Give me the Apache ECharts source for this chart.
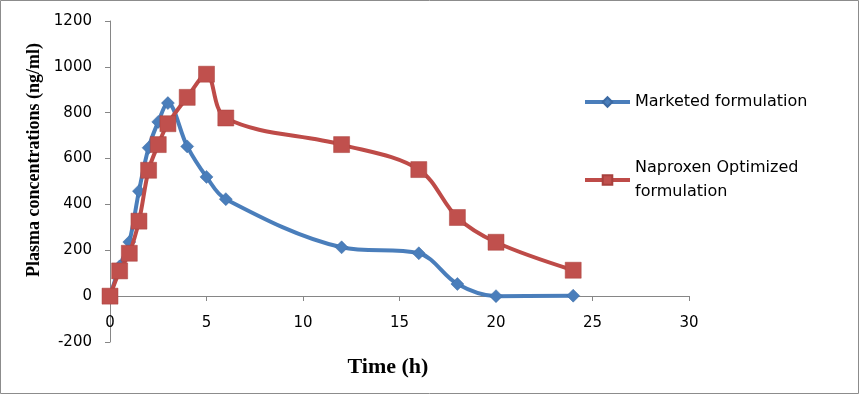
<!DOCTYPE html>
<html>
<head>
<meta charset="utf-8">
<script src="https://cdn.jsdelivr.net/npm/echarts@6/dist/echarts.min.js"></script>
<style>
html,body{margin:0;padding:0;background:#fff;}
#c{width:859px;height:394px;}
</style>
</head>
<body>
<div id="c"></div>
<script>
var times = [0, 0.5, 1, 1.5, 2, 2.5, 3, 4, 5, 6, 12, 16, 18, 20, 24];
var marketed = [0, 130, 236, 458, 647, 760, 842, 653, 520, 423, 213, 187, 53, 0, 2];
var optimized = [0, 110, 187, 327, 549, 661, 752, 867, 968, 777, 661, 552, 343, 235, 113];
var seriesNames = ['Marketed formulation', 'Naproxen Optimized formulation'];
var xTitle = 'Time (h)';
var yTitle = 'Plasma concentrations (ng/ml)';

function pairs(xs, ys) { return xs.map(function (x, i) { return [x, ys[i]]; }); }

var chart = echarts.init(document.getElementById('c'), null, {renderer: 'canvas'});
var axisColor = '#868686';
var tickFont = {fontFamily: 'DejaVu Sans', fontSize: 15, color: '#000'};

chart.setOption({
  animation: false,
  backgroundColor: '#fff',
  grid: {left: 110, right: 170, top: 21, bottom: 52, containLabel: false},
  xAxis: {
    type: 'value', min: 0, max: 30, interval: 5,
    position: 'bottom', offset: -46,
    axisLine: {onZero: false, lineStyle: {color: axisColor, width: 1}},
    axisTick: {show: true, length: 5, inside: false, lineStyle: {color: axisColor}},
    axisLabel: Object.assign({margin: 20}, tickFont),
    splitLine: {show: false}
  },
  yAxis: {
    type: 'value', min: -200, max: 1200, interval: 200,
    axisLine: {show: true, lineStyle: {color: axisColor, width: 1}},
    axisTick: {show: true, length: 5, lineStyle: {color: axisColor}},
    axisLabel: Object.assign({margin: 18, formatter: function (v) { return String(v); }}, tickFont),
    splitLine: {show: false}
  },
  legend: {
    orient: 'vertical', left: 578, top: 85, itemWidth: 45, itemHeight: 12, itemGap: 42,
    data: seriesNames,
    lineStyle: {width: 4},
    formatter: function (n) { return n === seriesNames[1] ? 'Naproxen Optimized\nformulation' : n; },
    textStyle: {fontFamily: 'DejaVu Sans', fontSize: 16, color: '#000', lineHeight: 24}
  },
  graphic: [
    {type: 'rect', shape: {x: 0.5, y: 0.5, width: 858, height: 393}, style: {fill: 'none', stroke: '#8c8c8c', lineWidth: 1}, silent: true},
    {type: 'text', x: 388, y: 367, style: {text: xTitle, font: 'bold 22px "Liberation Serif"', fill: '#000', align: 'center', verticalAlign: 'middle'}},
    {type: 'text', x: 34, y: 160, rotation: Math.PI / 2, style: {text: yTitle, font: 'bold 18px "Liberation Serif"', fill: '#000', align: 'center', verticalAlign: 'middle'}}
  ],
  series: [
    {
      name: seriesNames[0], type: 'line', data: pairs(times, marketed), smooth: 0.35,
      symbol: 'diamond', symbolSize: 13,
      lineStyle: {color: '#4A7EBB', width: 4},
      itemStyle: {color: '#4A7EBB', borderColor: '#3c6aa3', borderWidth: 0.5},
      z: 2
    },
    {
      name: seriesNames[1], type: 'line', data: pairs(times, optimized), smooth: 0.35,
      symbol: 'rect', symbolSize: 16,
      lineStyle: {color: '#BE4B48', width: 4},
      itemStyle: {color: '#C0504D', borderColor: '#a8403d', borderWidth: 0.5},
      z: 3
    }
  ]
});
</script>
</body>
</html>
